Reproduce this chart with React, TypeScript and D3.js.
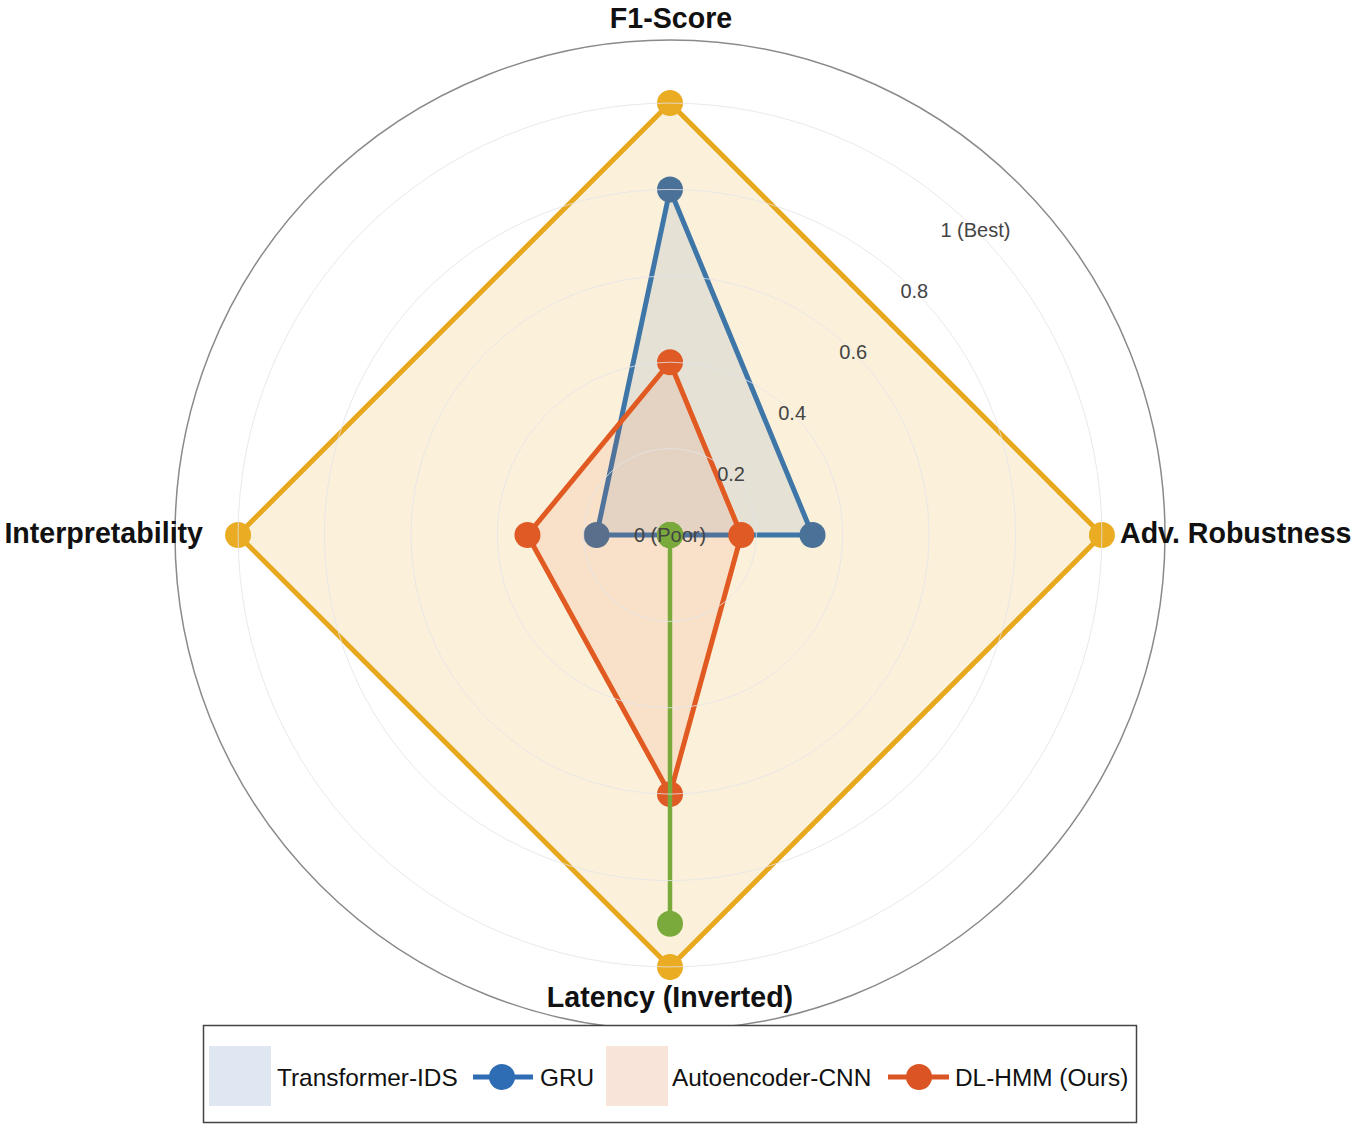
import React from "react";
import * as d3 from "d3";

const categories = ["F1-Score", "Adv. Robustness", "Latency (Inverted)", "Interpretability"];
const tickValues = [0, 0.2, 0.4, 0.6, 0.8, 1];
const tickLabels = ["0 (Poor)", "0.2", "0.4", "0.6", "0.8", "1 (Best)"];

const seriesNames = ["Transformer-IDS", "GRU", "Autoencoder-CNN", "DL-HMM (Ours)"];
const yellowValues = [1, 1, 1, 1];
const blueValues = [0.8, 0.33, 0, 0.17];
const orangeValues = [0.4, 0.165, 0.6, 0.33];
const greenValues = [0, 0, 0.9, 0];

const W = 1355;
const H = 1129;
const cx = 670;
const cy = 535;

const r = d3.scaleLinear().domain([0, 1.146]).range([0, 495]);
const angle = d3
  .scaleLinear()
  .domain([0, categories.length])
  .range([-Math.PI / 2, (3 * Math.PI) / 2]);

const pt = (v: number, i: number): [number, number] => [
  cx + r(v) * Math.cos(angle(i)),
  cy + r(v) * Math.sin(angle(i)),
];

const lineGen = d3
  .line<[number, number]>()
  .x((d) => d[0])
  .y((d) => d[1])
  .curve(d3.curveLinearClosed);

type Trace = { values: number[]; stroke: string; marker: string; fill: string; width: number };

const traces: Trace[] = [
  { values: yellowValues, stroke: "#E8A81E", marker: "#E9AC22", fill: "rgba(232,168,30,0.16)", width: 5 },
  { values: blueValues, stroke: "#3F76A8", marker: "#4A7298", fill: "rgba(70,118,168,0.12)", width: 5 },
  { values: orangeValues, stroke: "#E05A22", marker: "#DF5A24", fill: "rgba(224,90,36,0.10)", width: 5 },
  { values: greenValues, stroke: "#7BAA3C", marker: "#7BAA3C", fill: "rgba(123,170,60,0.10)", width: 4.5 },
];

const FONT = "'Liberation Sans', Arial, Helvetica, sans-serif";
const AXIS_FS = 28.6;
const LEG_FS = 24.4;

export default function App() {
  const outerR = r(1.146);
  return (
    <svg
      width={W}
      height={H}
      style={{ display: "block", position: "absolute", left: 0, top: 0, background: "#fff" }}
      fontFamily={FONT}
    >
      <rect x={0} y={0} width={W} height={H} fill="#fff" />
      {/* traces */}
      {traces.map((t, k) => {
        const pts = t.values.map((v, i) => pt(v, i));
        return (
          <g key={k}>
            <path d={lineGen(pts) || ""} fill={t.fill} stroke="none" />
            <path d={lineGen(pts) || ""} fill="none" stroke={t.stroke} strokeWidth={t.width} strokeLinejoin="round" />
            {pts.map((p, i) => (
              <circle key={i} cx={p[0]} cy={p[1]} r={13} fill={t.marker} />
            ))}
          </g>
        );
      })}
      {/* grid circles */}
      {tickValues.slice(1).map((v, i) => (
        <circle key={i} cx={cx} cy={cy} r={r(v)} fill="none" stroke="#e4e4e8" strokeOpacity={0.8} strokeWidth={1} />
      ))}
      <circle cx={cx} cy={cy} r={outerR} fill="none" stroke="#8a8a8a" strokeWidth={1.5} />
      {/* tick labels */}
      {tickValues.map((v, i) => (
        <text
          key={i}
          x={cx + r(v) * Math.cos(-Math.PI / 4)}
          y={cy + r(v) * Math.sin(-Math.PI / 4)}
          textAnchor="middle"
          dominantBaseline="central"
          fontSize={20}
          fill="#444"
        >
          {tickLabels[i]}
        </text>
      ))}
      {/* axis labels */}
      <text x={cx + 1} y={28} textAnchor="middle" fontSize={AXIS_FS} fontWeight="bold" fill="#111">
        {categories[0]}
      </text>
      <text x={1120} y={543} textAnchor="start" fontSize={AXIS_FS} fontWeight="bold" fill="#111">
        {categories[1]}
      </text>
      <text x={cx} y={1007} textAnchor="middle" fontSize={AXIS_FS} fontWeight="bold" fill="#111">
        {categories[2]}
      </text>
      <text x={203} y={543} textAnchor="end" fontSize={AXIS_FS} fontWeight="bold" fill="#111">
        {categories[3]}
      </text>
      {/* legend */}
      <g>
        <rect x={203.5} y={1025.5} width={933} height={97} fill="#fff" stroke="#444" strokeWidth={1.5} />
        <rect x={209} y={1046} width={62} height={60} fill="#DFE7F2" />
        <text x={277} y={1086} fontSize={LEG_FS} fill="#111">{seriesNames[0]}</text>
        <line x1={473} x2={533} y1={1077} y2={1077} stroke="#2E6DB4" strokeWidth={5} />
        <circle cx={502} cy={1077} r={13} fill="#2E6DB4" />
        <text x={540} y={1086} fontSize={LEG_FS} fill="#111">{seriesNames[1]}</text>
        <rect x={606} y={1046} width={62} height={60} fill="#F8E4D9" />
        <text x={672} y={1086} fontSize={LEG_FS} fill="#111">{seriesNames[2]}</text>
        <line x1={888} x2={949} y1={1077} y2={1077} stroke="#DA5424" strokeWidth={5} />
        <circle cx={919} cy={1077} r={13} fill="#DA5424" />
        <text x={955} y={1086} fontSize={LEG_FS} fill="#111">{seriesNames[3]}</text>
      </g>
    </svg>
  );
}
